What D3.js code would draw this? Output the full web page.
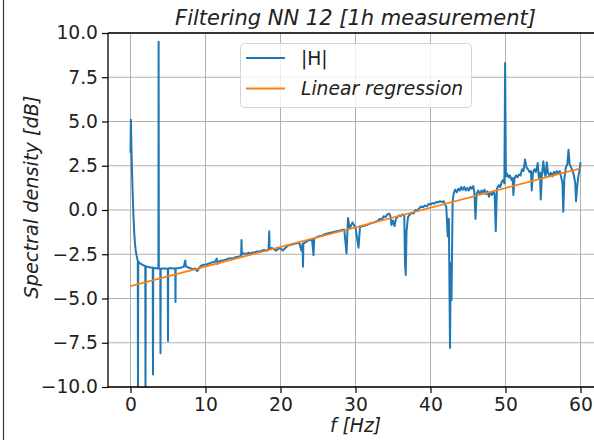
<!DOCTYPE html>
<html>
<head>
<meta charset="utf-8">
<script src="https://cdn.jsdelivr.net/npm/d3@7"></script>
<style>
  html, body { margin: 0; padding: 0; background: #fff; }
  svg { display: block; font-family: "DejaVu Sans", sans-serif; }
</style>
</head>
<body>
<svg id="chart" width="594" height="440"></svg>
<script>
// ---- data ----
const freq = [
  0, 0.05, 0.12, 0.2, 0.3, 0.4, 0.5, 0.6, 0.7, 0.8, 0.9, 0.97, 1.0, 1.03, 1.2, 1.4, 1.6, 1.8, 1.97, 2.0, 2.03,
  2.3, 2.6, 2.97, 3.0, 3.03, 3.3, 3.6, 3.72, 3.75, 3.78, 3.97, 4.0, 4.03, 4.3, 4.6, 4.97, 5.0, 5.03,
  5.3, 5.6, 5.97, 6.0, 6.03, 6.4, 6.8, 7.1, 7.3, 7.4, 7.7, 8.0, 8.3, 8.6, 8.9, 9.1, 9.4, 9.7, 10.0,
  10.3, 10.6, 10.9, 11.2, 11.5, 11.6, 11.8, 12.1, 12.4, 12.7, 13.0, 13.3, 13.6, 13.9, 14.2, 14.5, 14.75,
  14.8, 14.85, 15.1, 15.4, 15.7, 16.0, 16.3, 16.6, 16.9, 17.2, 17.5, 17.8, 18.1, 18.4, 18.5, 18.55,
  18.8, 19.1, 19.4, 19.7, 20.0, 20.3, 20.5, 21.0, 21.5, 22.0, 22.5, 22.8, 22.95, 23.0, 23.05, 23.4,
  23.8, 24.2, 24.4, 24.5, 25.0, 25.5, 26.0, 26.5, 27.0, 27.5, 28.0, 28.5, 28.8, 29.0, 29.2, 29.6,
  30.0, 30.4, 30.6, 31.0, 31.5, 32.0, 32.5,
  33.0, 33.25, 33.5, 33.75, 34.0, 34.25, 34.5, 34.65, 34.8, 35.0, 35.2, 35.4, 35.6, 35.8, 36.0, 36.25, 36.5,
  36.6, 36.7, 36.8, 37.0, 37.25, 37.5, 37.75, 38.0, 38.25, 38.5, 38.75, 39.0, 39.25, 39.5, 39.75, 40.0,
  40.25, 40.5, 40.75, 41.0, 41.25, 41.5, 41.75, 41.95, 42.1, 42.3, 42.45, 42.6, 42.7, 42.8,
  42.95, 43.1, 43.3, 43.5, 43.7, 43.9, 44.1, 44.3, 44.5, 44.7, 44.9, 45.1, 45.3, 45.5, 45.7, 45.85,
  46.0, 46.15, 46.35, 46.6, 46.8, 47.0, 47.2, 47.4, 47.6, 47.8, 48.0, 48.2, 48.4, 48.55, 48.7, 48.85,
  49.1, 49.3, 49.5, 49.7, 49.85, 49.95, 50.05, 50.2, 50.4, 50.6, 50.8, 50.95, 51.05, 51.2, 51.4, 51.6,
  51.8, 52.0, 52.2, 52.4, 52.6, 52.8, 53.0, 53.2, 53.4, 53.5, 53.65, 53.85, 54.05, 54.3, 54.45, 54.6,
  54.7, 54.85, 55.05, 55.2, 55.35, 55.5, 55.65, 55.85, 56.05, 56.25, 56.45, 56.65, 56.85, 57.05, 57.25,
  57.45, 57.6, 57.7, 57.85, 58.05, 58.25, 58.4, 58.55, 58.75, 58.95, 59.15, 59.3, 59.4, 59.55, 59.75,
  59.9, 60.0
];
const magnitude = [
  3.2, 5.1, 3.6, 2.2, 0.8, -0.4, -1.3, -1.9, -2.3, -2.55, -2.75, -2.85, -10.8, -2.9, -3.0, -3.05, -3.1, -3.15, -3.15, -10.8, -3.2,
  -3.2, -3.25, -3.25, -9.3, -3.3, -3.28, -3.3, -3.3, 9.5, -3.3, -3.3, -8.1, -3.32, -3.3, -3.3, -3.32, -7.4, -3.3,
  -3.28, -3.3, -3.3, -5.2, -3.3, -3.28, -3.25, -3.2, -2.85, -3.2, -3.25, -3.3, -3.35, -3.3, -3.45, -3.3, -3.15, -3.1, -3.1,
  -3.05, -3.0, -2.95, -2.95, -2.75, -3.05, -2.9, -2.85, -2.85, -2.8, -2.75, -2.72, -2.75, -2.68, -2.65, -2.62, -2.58,
  -1.7, -2.5, -2.45, -2.48, -2.42, -2.45, -2.4, -2.38, -2.35, -2.35, -2.3, -2.25, -2.3, -2.25, -1.2, -2.2,
  -2.15, -2.2, -2.3, -2.2, -2.15, -2.3, -2.2, -2.0, -1.95, -1.9, -1.85, -2.3, -1.9, -3.2, -1.9, -1.8,
  -1.7, -1.65, -2.55, -1.6, -1.5, -1.45, -1.35, -1.3, -1.25, -1.2, -1.15, -1.1, -2.45, -0.45, -1.05, -0.7,
  -1.0, -2.13, -0.95, -0.9, -0.85, -0.75, -0.7,
  -0.6, -0.5, -0.55, -0.35, -0.4, -0.25, -0.2, -0.35, -0.85, -0.6, -0.9, -0.5, -0.4, -0.3, -0.35, -0.25, -0.3,
  -3.0, -3.67, -1.2, -0.4, -0.25, -0.15, -0.2, 0.0, -0.05, 0.1, 0.2, 0.15, 0.25, 0.2, 0.35, 0.3,
  0.4, 0.35, 0.45, 0.42, 0.5, 0.45, 0.5, 0.3, 0.2, -1.5, -0.5, -7.8, -3.0, -5.1,
  0.5, 0.95, 1.15, 1.0, 1.2, 1.1, 1.3, 1.15, 1.3, 1.1, 1.25, 1.1, 1.3, 1.2, 1.35, 1.0,
  -0.5, 0.9, 1.1, 0.9, 1.1, 1.0, 1.15, 0.9, 1.05, 0.75, 1.0, 0.85, 1.05, 0.9, -1.2, 1.2,
  1.4, 1.3, 1.6, 1.7, 1.5, 8.3, 1.9, 2.05, 1.85, 1.95, 1.7, 1.8, 0.85, 1.8, 1.95, 1.85,
  2.0, 1.95, 2.3, 2.2, 2.85, 2.4, 2.3, 2.15, 2.2, 1.1, 2.1, 2.3, 2.15, 2.65, 1.8, 2.1,
  0.6, 2.0, 2.75, 2.1, 1.9, 2.7, 2.1, 1.95, 2.1, 1.9, 2.15, 2.05, 2.2, 2.05, 2.2,
  1.8, 1.5, -0.1, 1.8, 2.4, 2.6, 3.4, 2.6, 2.4, 2.2, 1.9, 1.5, 0.5, 1.3, 2.0,
  2.3, 2.7
];
const regFreq = [0, 60];
const regValue = [-4.3, 2.35];
const xTicks = [0, 10, 20, 30, 40, 50, 60];
const yTicks = [-10, -7.5, -5, -2.5, 0, 2.5, 5, 7.5, 10];
const seriesNames = ["|H|", "Linear regression"];
const titleText = "Filtering NN 12 [1h measurement]";
const xLabelText = "f [Hz]";
const yLabelText = "Spectral density [dB]";

// ---- layout ----
const svg = d3.select("#chart");
const L = 108, R = 603, T = 33, B = 387;
const FS = 18.7;
const x = d3.scaleLinear().domain([-3, 63]).range([L, R]);
const y = d3.scaleLinear().domain([-10, 10]).range([B, T]);
const blue = "#1f77b4", orange = "#ff7f0e";

svg.append("rect").attr("width", 594).attr("height", 440).attr("fill", "#fff");

// outer frame line at left
svg.append("line").attr("x1", 3.5).attr("x2", 3.5).attr("y1", 0).attr("y2", 440)
  .attr("stroke", "#333").attr("stroke-width", 1.2);

svg.append("defs").append("clipPath").attr("id", "clip")
  .append("rect").attr("x", L).attr("y", T).attr("width", R - L).attr("height", B - T);

// grid
const grid = svg.append("g").attr("stroke", "#b0b0b0").attr("stroke-width", 1);
xTicks.forEach(t => grid.append("line").attr("x1", x(t)).attr("x2", x(t)).attr("y1", T).attr("y2", B));
yTicks.forEach(t => grid.append("line").attr("x1", L).attr("x2", R).attr("y1", y(t)).attr("y2", y(t)));

// lines
const pts = freq.map((f, i) => [f, magnitude[i]]);
const lineGen = d3.line().x(d => x(d[0])).y(d => y(d[1]));
const plot = svg.append("g").attr("clip-path", "url(#clip)");
plot.append("path").datum(pts).attr("d", lineGen)
  .attr("fill", "none").attr("stroke", blue).attr("stroke-width", 2).attr("stroke-linejoin", "round");
const regPts = regFreq.map((f, i) => [f, regValue[i]]);
plot.append("path").datum(regPts).attr("d", lineGen)
  .attr("fill", "none").attr("stroke", orange).attr("stroke-width", 1.8);

// axes
const fmtY = d => d3.format(".1f")(d).replace("-", "\u2212");
const xAxis = svg.append("g").attr("transform", `translate(0,${B})`)
  .call(d3.axisBottom(x).tickValues(xTicks).tickSize(6).tickPadding(5).tickFormat(d3.format("d")));
const yAxis = svg.append("g").attr("transform", `translate(${L},0)`)
  .call(d3.axisLeft(y).tickValues(yTicks).tickSize(6).tickPadding(4).tickFormat(fmtY));
[xAxis, yAxis].forEach(a => {
  a.select(".domain").remove();
  a.selectAll("line").attr("stroke", "#000").attr("stroke-width", 1.2);
  a.selectAll("text").attr("font-family", "DejaVu Sans").attr("font-size", FS).attr("fill", "#222");
});

// spines
const sp = svg.append("g").attr("stroke", "#000").attr("stroke-width", 1.3).attr("fill", "none");
sp.append("line").attr("x1", L).attr("x2", L).attr("y1", T).attr("y2", B);
sp.append("line").attr("x1", L).attr("x2", R).attr("y1", B).attr("y2", B);
sp.append("line").attr("x1", L).attr("x2", R).attr("y1", T).attr("y2", T);
sp.append("line").attr("x1", R).attr("x2", R).attr("y1", T).attr("y2", B);

// title and labels
svg.append("text").attr("x", (L + R) / 2).attr("y", 25).attr("text-anchor", "middle")
  .attr("font-size", 21).attr("font-style", "italic").attr("fill", "#222").text(titleText);
svg.append("text").attr("x", (L + R) / 2).attr("y", 432).attr("text-anchor", "middle")
  .attr("font-size", FS).attr("font-style", "italic").attr("fill", "#222").text(xLabelText);
svg.append("text").attr("transform", `translate(38,${(T + B) / 2 - 13}) rotate(-90)`)
  .attr("text-anchor", "middle").attr("font-size", 19.3).attr("font-style", "italic")
  .attr("fill", "#222").text(yLabelText);

// legend
const lg = svg.append("g");
lg.append("rect").attr("x", 240.5).attr("y", 43.5).attr("width", 231).attr("height", 64).attr("rx", 4)
  .attr("fill", "#fff").attr("fill-opacity", 0.8).attr("stroke", "#d5d5d5").attr("stroke-width", 1);
const entries = [{ name: seriesNames[0], color: blue, italic: false, yy: 58 },
                 { name: seriesNames[1], color: orange, italic: true, yy: 88.5 }];
entries.forEach(e => {
  lg.append("line").attr("x1", 246).attr("x2", 285).attr("y1", e.yy).attr("y2", e.yy)
    .attr("stroke", e.color).attr("stroke-width", 1.8);
  lg.append("text").attr("x", 301).attr("y", e.yy + 6.5).attr("font-size", FS)
    .attr("font-style", e.italic ? "italic" : "normal").attr("fill", "#222").text(e.name);
});
</script>
</body>
</html>
